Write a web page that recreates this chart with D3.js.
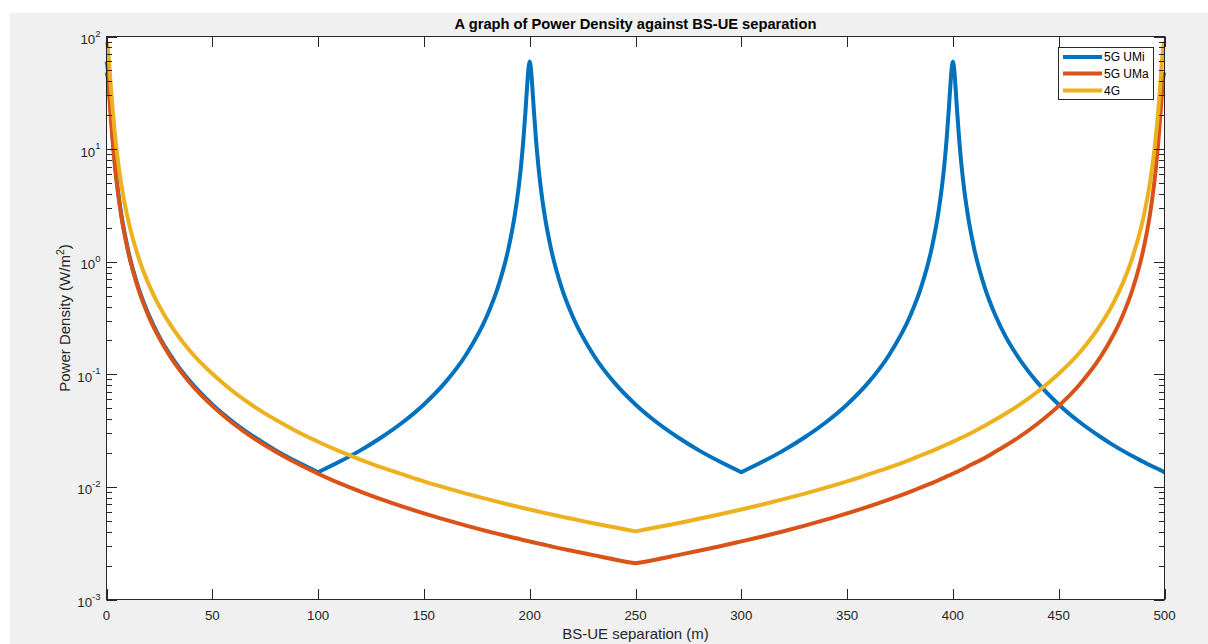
<!DOCTYPE html>
<html>
<head>
<meta charset="utf-8">
<script src="https://cdn.jsdelivr.net/npm/d3@7"></script>
<style>
  html, body { margin: 0; padding: 0; background: #ffffff; }
  svg { display: block; }
  text { font-family: "Liberation Sans", Arial, Helvetica, sans-serif; }
</style>
</head>
<body>
<svg id="fig" width="1208" height="644"></svg>
<script>
// BS-UE separation (m), denser near the base stations
const separation = [
  0, 0.5, 1, 2, 3, 4, 5, 7, 10, 15, 20, 25, 30, 40, 50, 60, 70, 80, 90, 100,
  110, 120, 130, 140, 150, 160, 170, 180, 185, 190, 193, 195, 196, 197, 198, 199, 199.5,
  200, 200.5, 201, 202, 203, 204, 205, 207, 210, 215, 220, 230, 240, 250,
  260, 270, 280, 290, 300, 310, 320, 330, 340, 350, 360, 370, 380, 385, 390, 393, 395, 396, 397, 398, 399, 399.5,
  400, 400.5, 401, 402, 403, 404, 405, 407, 410, 415, 420, 425, 430, 440, 450, 460, 470, 475, 480, 485, 490, 493, 495, 496, 497, 498, 499, 499.5, 500
];

// Power density (W/m^2)
const umi5G = [
  60, 54, 41.5, 21.6, 12.0, 7.40, 4.95, 2.63, 1.32, 0.594, 0.336, 0.215, 0.150, 0.0843, 0.0540, 0.0375, 0.0276, 0.0211, 0.0167, 0.0135,
  0.0167, 0.0211, 0.0276, 0.0375, 0.0540, 0.0843, 0.150, 0.336, 0.594, 1.32, 2.63, 4.95, 7.40, 12.0, 21.6, 41.5, 54,
  60, 54, 41.5, 21.6, 12.0, 7.40, 4.95, 2.63, 1.32, 0.594, 0.336, 0.150, 0.0843, 0.0540,
  0.0375, 0.0276, 0.0211, 0.0167, 0.0135, 0.0167, 0.0211, 0.0276, 0.0375, 0.0540, 0.0843, 0.150, 0.336, 0.594, 1.32, 2.63, 4.95, 7.40, 12.0, 21.6, 41.5, 54,
  60, 54, 41.5, 21.6, 12.0, 7.40, 4.95, 2.63, 1.32, 0.594, 0.336, 0.215, 0.150, 0.0843, 0.0540, 0.0375, 0.0276, 0.0240, 0.0211, 0.0187, 0.0167, 0.0156, 0.0150, 0.0147, 0.0144, 0.0141, 0.0138, 0.0136, 0.0135
];

const uma5G = [
  48.2, 44.1, 35.2, 19.5, 11.2, 7.00, 4.73, 2.53, 1.28, 0.575, 0.325, 0.209, 0.145, 0.0817, 0.0524, 0.0364, 0.0267, 0.0205, 0.0162, 0.0131,
  0.0108, 0.00910, 0.00775, 0.00668, 0.00582, 0.00512, 0.00453, 0.00404, 0.00383, 0.00363, 0.00352, 0.00345, 0.00341, 0.00338, 0.00334, 0.00331, 0.00329,
  0.00328, 0.00326, 0.00324, 0.00321, 0.00318, 0.00315, 0.00312, 0.00306, 0.00297, 0.00283, 0.00271, 0.00248, 0.00227, 0.00210,
  0.00227, 0.00248, 0.00271, 0.00297, 0.00328, 0.00363, 0.00404, 0.00453, 0.00512, 0.00582, 0.00668, 0.00775, 0.00910, 0.00991, 0.0108, 0.0114, 0.0119, 0.0121, 0.0124, 0.0126, 0.0128, 0.0130,
  0.0131, 0.0132, 0.0134, 0.0136, 0.0139, 0.0142, 0.0145, 0.0152, 0.0162, 0.0181, 0.0205, 0.0233, 0.0267, 0.0364, 0.0524, 0.0817, 0.145, 0.209, 0.325, 0.575, 1.28, 2.53, 4.73, 7.00, 11.2, 19.5, 35.2, 44.1, 48.2
];

const lte4G = [
  90.0, 82.6, 66.3, 37.1, 21.4, 13.4, 9.06, 4.86, 2.45, 1.11, 0.626, 0.401, 0.279, 0.157, 0.101, 0.0700, 0.0514, 0.0394, 0.0311, 0.0252,
  0.0208, 0.0175, 0.0149, 0.0129, 0.0112, 0.00984, 0.00872, 0.00778, 0.00736, 0.00698, 0.00677, 0.00663, 0.00656, 0.00649, 0.00643, 0.00636, 0.00633,
  0.00630, 0.00627, 0.00624, 0.00618, 0.00612, 0.00606, 0.00600, 0.00588, 0.00571, 0.00545, 0.00521, 0.00476, 0.00438, 0.00403,
  0.00438, 0.00476, 0.00521, 0.00571, 0.00630, 0.00698, 0.00778, 0.00872, 0.00984, 0.0112, 0.0129, 0.0149, 0.0175, 0.0191, 0.0208, 0.0220, 0.0229, 0.0233, 0.0238, 0.0242, 0.0247, 0.0250,
  0.0252, 0.0255, 0.0257, 0.0262, 0.0268, 0.0273, 0.0279, 0.0291, 0.0311, 0.0349, 0.0394, 0.0448, 0.0514, 0.0700, 0.101, 0.157, 0.279, 0.401, 0.626, 1.11, 2.45, 4.86, 9.06, 13.4, 21.4, 37.1, 66.3, 82.6, 90.0
];

const seriesNames = ["5G UMi", "5G UMa", "4G"];
const seriesColors = ["#0072BD", "#D95319", "#EDB120"];
const xTicks = [0, 50, 100, 150, 200, 250, 300, 350, 400, 450, 500];
const yDecades = [-3, -2, -1, 0, 1, 2];

const svg = d3.select("#fig");
const W = 1208, H = 644;
const plot = { left: 106.5, right: 1164.5, top: 36.5, bottom: 599.5 };
const axisColor = "#262626";

// figure background
svg.append("rect").attr("x", 10).attr("y", 13).attr("width", W - 10).attr("height", H - 13)
  .attr("fill", "#f0f0f0");

const x = d3.scaleLinear().domain([0, 500]).range([plot.left, plot.right]);
const y = d3.scaleLog().domain([1e-3, 1e2]).range([plot.bottom, plot.top]);

// axes area
svg.append("rect")
  .attr("x", plot.left).attr("y", plot.top)
  .attr("width", plot.right - plot.left).attr("height", plot.bottom - plot.top)
  .attr("fill", "#ffffff");

// series: split at the sharp minima (cell edges) and smooth each piece
const seriesData = [umi5G, uma5G, lte4G];
const line = d3.line().x(d => x(d[0])).y(d => y(d[1])).curve(d3.curveMonotoneX);
seriesData.forEach((vals, i) => {
  const pts = separation.map((s, j) => [s, vals[j]]);
  const cuts = [0];
  for (let j = 1; j < pts.length - 1; j++) {
    if (vals[j] < vals[j - 1] && vals[j] < vals[j + 1]) cuts.push(j);
  }
  cuts.push(pts.length - 1);
  let d = "";
  for (let k = 0; k < cuts.length - 1; k++) {
    const seg = line(pts.slice(cuts[k], cuts[k + 1] + 1));
    d += k === 0 ? seg : "L" + seg.slice(1);
  }
  svg.append("path")
    .attr("d", d)
    .attr("fill", "none")
    .attr("stroke", seriesColors[i])
    .attr("stroke-width", 4)
    .attr("stroke-linejoin", "round")
    .attr("stroke-linecap", "butt");
});

// ticks (inside the box, on all four sides)
const tickG = svg.append("g").attr("stroke", axisColor).attr("stroke-width", 1);
const majorLen = 10.5, minorLen = 5.5;
xTicks.forEach(t => {
  const px = Math.round(x(t)) + 0.5;
  tickG.append("line").attr("x1", px).attr("x2", px).attr("y1", plot.bottom).attr("y2", plot.bottom - majorLen);
  tickG.append("line").attr("x1", px).attr("x2", px).attr("y1", plot.top).attr("y2", plot.top + majorLen);
});
const minorVals = [];
yDecades.slice(0, -1).forEach(e => { for (let m = 2; m <= 9; m++) minorVals.push(m * Math.pow(10, e)); });
yDecades.forEach(e => {
  const py = Math.round(y(Math.pow(10, e))) + 0.5;
  tickG.append("line").attr("x1", plot.left).attr("x2", plot.left + majorLen).attr("y1", py).attr("y2", py);
  tickG.append("line").attr("x1", plot.right).attr("x2", plot.right - majorLen).attr("y1", py).attr("y2", py);
});
minorVals.forEach(v => {
  const py = Math.round(y(v)) + 0.5;
  tickG.append("line").attr("x1", plot.left).attr("x2", plot.left + minorLen).attr("y1", py).attr("y2", py);
  tickG.append("line").attr("x1", plot.right).attr("x2", plot.right - minorLen).attr("y1", py).attr("y2", py);
});

// box
svg.append("rect")
  .attr("x", plot.left).attr("y", plot.top)
  .attr("width", plot.right - plot.left).attr("height", plot.bottom - plot.top)
  .attr("fill", "none").attr("stroke", axisColor).attr("stroke-width", 1);

// x tick labels
svg.append("g").selectAll("text").data(xTicks).join("text")
  .attr("x", d => x(d)).attr("y", plot.bottom + 20)
  .attr("text-anchor", "middle").attr("font-size", 13.3).attr("fill", axisColor)
  .text(d => d);

// y tick labels: 10 with superscript exponent
const yl = svg.append("g").selectAll("text").data(yDecades).join("text")
  .attr("x", plot.left - 6).attr("y", d => y(Math.pow(10, d)) + 7.5)
  .attr("text-anchor", "end").attr("font-size", 13.3).attr("fill", axisColor);
yl.append("tspan").text("10");
yl.append("tspan").attr("dy", -7.5).attr("font-size", 9.5).text(d => d);

// title
svg.append("text")
  .attr("x", (plot.left + plot.right) / 2).attr("y", 28.5)
  .attr("text-anchor", "middle").attr("font-size", 14.7).attr("font-weight", "bold").attr("fill", "#000")
  .text("A graph of Power Density against BS-UE separation");

// axis labels
svg.append("text")
  .attr("x", (plot.left + plot.right) / 2).attr("y", 638.5)
  .attr("text-anchor", "middle").attr("font-size", 15).attr("fill", axisColor)
  .text("BS-UE separation (m)");

const ylab = svg.append("text")
  .attr("transform", `translate(70, ${(plot.top + plot.bottom) / 2}) rotate(-90)`)
  .attr("text-anchor", "middle").attr("font-size", 15).attr("fill", axisColor);
ylab.append("tspan").text("Power Density (W/m");
ylab.append("tspan").attr("dy", -6.5).attr("font-size", 10.5).text("2");
ylab.append("tspan").attr("dy", 6.5).text(")");

// legend
const lg = svg.append("g");
lg.append("rect").attr("x", 1058.5).attr("y", 47.5).attr("width", 95).attr("height", 52)
  .attr("fill", "#ffffff").attr("stroke", axisColor).attr("stroke-width", 1);
const rowY = [57, 73.5, 90.5];
seriesNames.forEach((name, i) => {
  lg.append("line").attr("x1", 1063).attr("x2", 1102).attr("y1", rowY[i]).attr("y2", rowY[i])
    .attr("stroke", seriesColors[i]).attr("stroke-width", 4);
  lg.append("text").attr("x", 1104).attr("y", rowY[i] + 4.3)
    .attr("font-size", 12).attr("fill", "#000").text(name);
});
</script>
</body>
</html>
